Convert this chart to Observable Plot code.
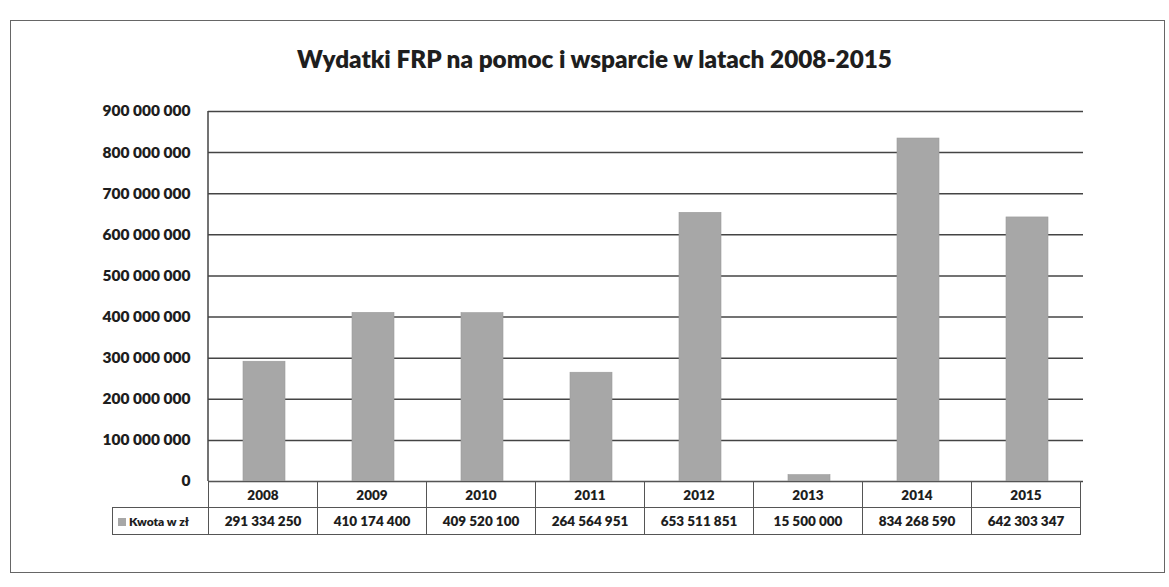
<!DOCTYPE html>
<html>
<head>
<meta charset="utf-8">
<script src="https://cdn.jsdelivr.net/npm/d3@7"></script>
<script src="https://cdn.jsdelivr.net/npm/@observablehq/plot@0.6"></script>
<style>
  body { margin: 0; background: #fff; font-family: Lato, "Open Sans", sans-serif; }
  #wrap { position: relative; width: 1169px; height: 587px; overflow: hidden; background: #fff; }
  #frame { position: absolute; left: 10px; top: 20px; width: 1155px; height: 553px; border: 1.5px solid #666; box-sizing: border-box; }
  #title { position: absolute; left: 10px; width: 1169px; top: 44px; line-height: 30px; text-align: center; font-weight: 800; font-size: 24.3px; color: #1e1e1e; }
  #chart { position: absolute; left: 0; top: 0; }
  #tbl { position: absolute; border-collapse: collapse; table-layout: fixed; font-weight: 800; font-size: 13.5px; color: #1e1e1e; }
  #tbl td { border: 1.5px solid #555; text-align: center; padding: 0; white-space: nowrap; }
  #tbl td.blank { border-style: none; }
  #tbl td.leg { text-align: left; padding-left: 5px; }
  .sw { display: inline-block; width: 8px; height: 8px; background: #a7a7a7; margin-right: 3px; vertical-align: 0px; }
</style>
</head>
<body>
<div id="wrap">
  <div id="frame"></div>
  <div id="title"></div>
  <div id="chart"></div>
</div>
<script>
const titleText = "Wydatki FRP na pomoc i wsparcie w latach 2008-2015";
const seriesName = "Kwota w zł";
const years = ["2008", "2009", "2010", "2011", "2012", "2013", "2014", "2015"];
const yearLabels = ["2008", "2009", "2010", "2011", "2012", "2013", "2014", "2015"];
const amounts = [291334250, 410174400, 409520100, 264564951, 653511851, 15500000, 834268590, 642303347];
const yTicks = [0, 100000000, 200000000, 300000000, 400000000, 500000000, 600000000, 700000000, 800000000, 900000000];

const fmt = v => d3.format(",")(v).replace(/,/g, " ");
const data = years.map((y, i) => ({year: y, value: amounts[i]}));

document.getElementById("title").textContent = titleText;

const W = 1169, plotTop = 111, plotBottom = 481, plotLeft = 208, plotRight = 1083;
const pad = 0.615;

const chart = Plot.plot({
  width: W,
  height: plotBottom + 14,
  marginTop: plotTop,
  marginBottom: 14,
  marginLeft: plotLeft,
  marginRight: W - plotRight,
  style: { background: "transparent", fontFamily: "Lato, 'Open Sans', sans-serif" },
  x: { domain: years, paddingInner: pad, paddingOuter: pad / 2, axis: null },
  y: { domain: [0, 900000000], ticks: yTicks, tickFormat: fmt, label: null },
  marks: [
    Plot.gridY(yTicks, { stroke: "#444", strokeOpacity: 1, strokeWidth: 1.5 }),
    Plot.axisY(yTicks, { tickFormat: fmt, tickSize: 0, tickPadding: 18, fontSize: 15.5, fontWeight: 800, fill: "#1e1e1e", label: null }),
    Plot.barY(data, { x: "year", y: "value", fill: "#a7a7a7", stroke: "#9a9a9a", strokeWidth: 0.6 })
  ]
});
document.getElementById("chart").appendChild(chart);

const ys = chart.scale("y");
const xs = chart.scale("x");
const svg = d3.select(chart);
svg.append("line")
  .attr("x1", plotLeft).attr("x2", plotLeft)
  .attr("y1", ys.apply(900000000)).attr("y2", ys.apply(0))
  .attr("stroke", "#444").attr("stroke-width", 1.5);

// data table under the chart, aligned with the x scale
const step = xs.step;
const legW = 96;
const tbl = document.createElement("table");
tbl.id = "tbl";
tbl.style.left = (plotLeft - legW) + "px";
tbl.style.top = ys.apply(0) + "px";
tbl.style.width = (legW + step * years.length) + "px";
const cg = document.createElement("colgroup");
[legW, ...years.map(() => step)].forEach(w => { const c = document.createElement("col"); c.style.width = w + "px"; cg.appendChild(c); });
tbl.appendChild(cg);
const r1 = tbl.insertRow();
r1.style.height = "26px";
const b = r1.insertCell(); b.className = "blank";
yearLabels.forEach(y => { const c = r1.insertCell(); c.textContent = y; });
const r2 = tbl.insertRow();
r2.style.height = "27px";
const lc = r2.insertCell(); lc.className = "leg";
lc.innerHTML = '<span class="sw"></span>' + seriesName;
lc.style.fontSize = "12px";
amounts.forEach(v => { const c = r2.insertCell(); c.textContent = fmt(v); });
document.getElementById("wrap").appendChild(tbl);
</script>
</body>
</html>
